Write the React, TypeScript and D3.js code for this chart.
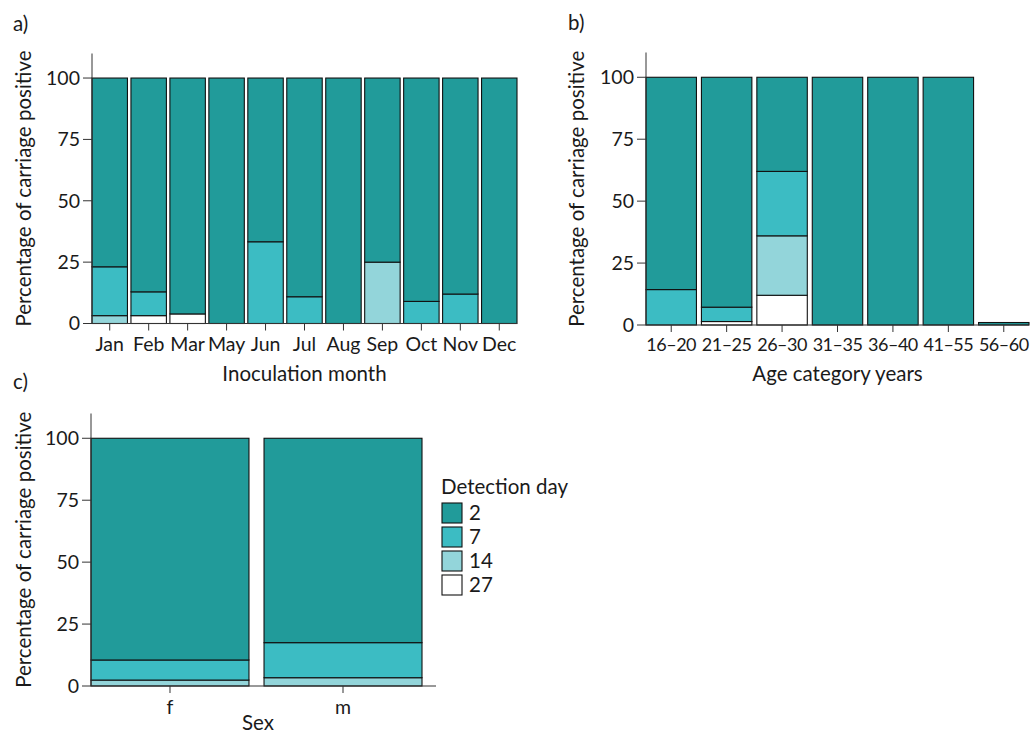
import React from "react";
import * as d3 from "d3";

// ---------- data ----------
const months = ["Jan", "Feb", "Mar", "May", "Jun", "Jul", "Aug", "Sep", "Oct", "Nov", "Dec"];
const monthDay2 = [76.9, 87.1, 96.1, 100, 66.7, 89.1, 100, 75, 91, 88, 100];
const monthDay7 = [19.9, 9.7, 0, 0, 33.3, 10.9, 0, 0, 9, 12, 0];
const monthDay14 = [3.2, 0, 0, 0, 0, 0, 0, 25, 0, 0, 0];
const monthDay27 = [0, 3.2, 3.9, 0, 0, 0, 0, 0, 0, 0, 0];

const ageCats = ["16–20", "21–25", "26–30", "31–35", "36–40", "41–55", "56–60"];
const ageDay2 = [85.7, 92.8, 38, 100, 100, 100, 1];
const ageDay7 = [14.3, 5.8, 26, 0, 0, 0, 0];
const ageDay14 = [0, 0, 24, 0, 0, 0, 0];
const ageDay27 = [0, 1.4, 12, 0, 0, 0, 0];

const sexCats = ["f", "m"];
const sexDay2 = [89.5, 82.5];
const sexDay7 = [8.1, 14.15];
const sexDay14 = [2.4, 3.35];
const sexDay27 = [0, 0];

const stackKeys = ["27", "14", "7", "2"]; // bottom -> top
const legendKeys = ["2", "7", "14", "27"];
const dayColors: Record<string, string> = {
  "2": "#219b9a",
  "7": "#3cbcc3",
  "14": "#93d5da",
  "27": "#ffffff",
};
const yTickValues = [0, 25, 50, 75, 100];

const FONT = "Lato, 'Noto Sans', sans-serif";
const TEXT = "#1a1a1a";
const AXIS = "#333333";
const TICK_FS = 19.5;
const TITLE_FS = 20.5;

type PanelProps = {
  cats: string[];
  d2: number[];
  d7: number[];
  d14: number[];
  d27: number[];
  xRange: [number, number];
  yRange: [number, number];
  padding: number;
  axisExtra?: number;
  yTitleX: number;
  tickBaseline: number;
  tickFs?: number;
  tickSpacing?: number;
  xTitle: string;
  xTitleX?: number;
  xTitleBaseline: number;
  label: string;
  labelX: number;
  labelBaseline: number;
};

function Panel(p: PanelProps) {
  const x = d3.scaleBand<string>().domain(p.cats).range(p.xRange).paddingInner(p.padding).paddingOuter(0);
  const y = d3.scaleLinear().domain([0, 110]).range(p.yRange);
  const rows = p.cats.map((c, i) => ({
    cat: c,
    "2": p.d2[i],
    "7": p.d7[i],
    "14": p.d14[i],
    "27": p.d27[i],
  }));
  const series = d3.stack<any>().keys(stackKeys)(rows);
  const ax = p.xRange[0];
  const axEnd = p.xRange[1] + (p.axisExtra || 0);
  const y0 = y(0);
  return (
    <g>
      <text x={p.labelX} y={p.labelBaseline} fontSize={TITLE_FS} fill={TEXT} fontFamily={FONT}>
        {p.label}
      </text>
      {series.map((s) =>
        s.map((d, i) =>
          d[1] - d[0] > 0 ? (
            <rect
              key={s.key + "-" + i}
              x={x(p.cats[i])}
              width={x.bandwidth()}
              y={y(d[1])}
              height={y(d[0]) - y(d[1])}
              fill={dayColors[s.key]}
              stroke="#111"
              strokeWidth={1.1}
            />
          ) : null
        )
      )}
      {/* y axis */}
      <line x1={ax} x2={ax} y1={y(110)} y2={y0} stroke={AXIS} strokeWidth={1} />
      {yTickValues.map((t) => (
        <g key={t}>
          <line x1={ax - 9} x2={ax} y1={y(t)} y2={y(t)} stroke={AXIS} strokeWidth={1} />
          <text
            x={ax - 12}
            y={y(t)}
            dy="0.35em"
            textAnchor="end"
            fontSize={TICK_FS}
            fill={TEXT}
            fontFamily={FONT}
          >
            {t}
          </text>
        </g>
      ))}
      {/* x axis */}
      <line x1={ax} x2={axEnd} y1={y0} y2={y0} stroke={AXIS} strokeWidth={1} />
      {p.cats.map((c) => {
        const cx = (x(c) as number) + x.bandwidth() / 2;
        return (
          <g key={c}>
            <line x1={cx} x2={cx} y1={y0} y2={y0 + 7} stroke={AXIS} strokeWidth={1} />
            <text
              x={cx}
              y={p.tickBaseline}
              textAnchor="middle"
              fontSize={p.tickFs ?? TICK_FS}
              letterSpacing={p.tickSpacing ?? 0}
              fill={TEXT}
              fontFamily={FONT}
            >
              {c}
            </text>
          </g>
        );
      })}
      <text
        x={p.xTitleX ?? (p.xRange[0] + p.xRange[1]) / 2}
        y={p.xTitleBaseline}
        textAnchor="middle"
        fontSize={TITLE_FS}
        fill={TEXT}
        fontFamily={FONT}
      >
        {p.xTitle}
      </text>
      <text
        transform={`translate(${p.yTitleX},${(y(110) + y0) / 2}) rotate(-90)`}
        textAnchor="middle"
        dy="0.35em"
        fontSize={TITLE_FS}
        fill={TEXT}
        fontFamily={FONT}
      >
        Percentage of carriage positive
      </text>
    </g>
  );
}

function Legend() {
  const keyScale = d3.scaleBand<string>().domain(legendKeys).range([503, 599]);
  return (
    <g fontFamily={FONT} fill={TEXT}>
      <text x={441} y={494} fontSize={TITLE_FS}>
        Detection day
      </text>
      {legendKeys.map((k) => {
        const ky = keyScale(k) as number;
        return (
          <g key={k}>
            <rect x={442} y={ky} width={20} height={20} fill={dayColors[k]} stroke="#111" strokeWidth={1.1} />
            <text x={469} y={ky + 10} dy="0.35em" fontSize={TITLE_FS}>
              {k}
            </text>
          </g>
        );
      })}
    </g>
  );
}

export default function App() {
  return (
    <svg
      width={1032}
      height={734}
      style={{ position: "absolute", left: 0, top: 0, background: "#fff" }}
    >
      <Panel
        cats={months}
        d2={monthDay2}
        d7={monthDay7}
        d14={monthDay14}
        d27={monthDay27}
        xRange={[92, 517]}
        yRange={[323.5, 53.5]}
        padding={0.09}
        yTitleX={24}
        tickBaseline={351}
        xTitle="Inoculation month"
        xTitleBaseline={381}
        label="a)"
        labelX={13}
        labelBaseline={31}
      />
      <Panel
        cats={ageCats}
        d2={ageDay2}
        d7={ageDay7}
        d14={ageDay14}
        d27={ageDay27}
        xRange={[646, 1029]}
        yRange={[325, 52.5]}
        padding={0.09}
        yTitleX={577}
        tickBaseline={351}
        tickFs={18}
        tickSpacing={-0.5}
        xTitle="Age category years"
        xTitleBaseline={381}
        label="b)"
        labelX={568}
        labelBaseline={30}
      />
      <Panel
        cats={sexCats}
        d2={sexDay2}
        d7={sexDay7}
        d14={sexDay14}
        d27={sexDay27}
        xRange={[91, 422]}
        yRange={[686, 413.5]}
        padding={0.087}
        axisExtra={14}
        yTitleX={24}
        tickBaseline={714}
        xTitle="Sex"
        xTitleX={258}
        xTitleBaseline={730}
        label="c)"
        labelX={13}
        labelBaseline={389}
      />
      <Legend />
    </svg>
  );
}
